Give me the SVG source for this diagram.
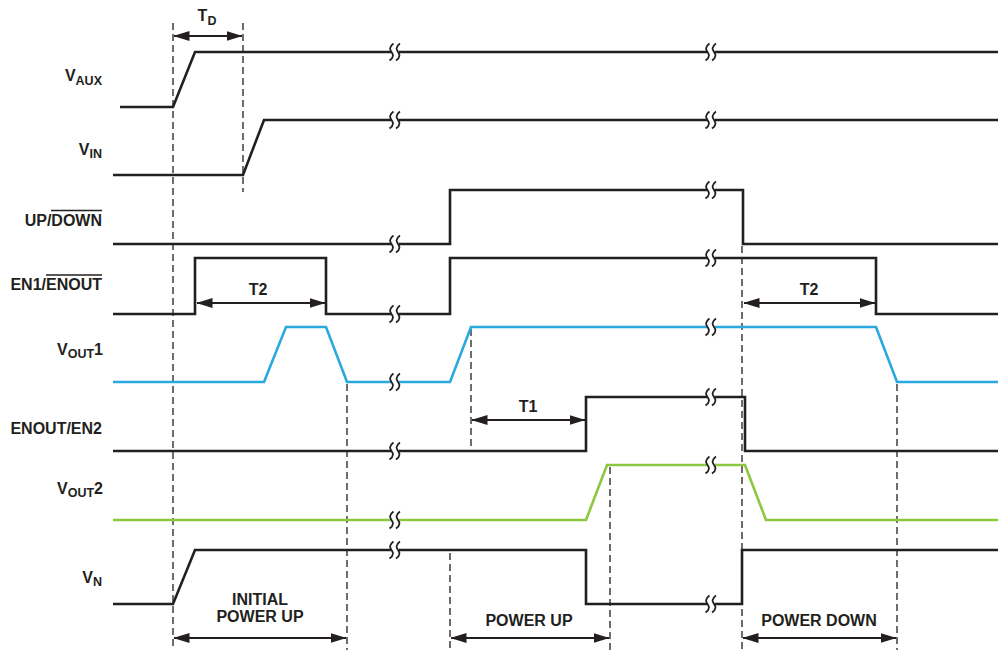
<svg xmlns="http://www.w3.org/2000/svg" xmlns:xlink="http://www.w3.org/1999/xlink" width="998" height="650" viewBox="0 0 998 650">
<style>
text{font-family:"Liberation Sans",Arial,sans-serif;font-weight:bold;fill:#231f20;font-size:16px}
.lbl{text-anchor:end}
.mid{text-anchor:middle}
.sub{font-size:12.5px}
.sig{fill:none;stroke:#231f20;stroke-width:2.6;stroke-linejoin:miter}
.blue{stroke:#29a9e0}
.green{stroke:#8dc63f}
.dash{stroke:#231f20;stroke-width:1.3;stroke-dasharray:7 4;fill:none}
.arr{stroke:#231f20;stroke-width:2;fill:none;marker-start:url(#ah);marker-end:url(#ah)}
.ovl{stroke:#231f20;stroke-width:1.3}
.sq{fill:none;stroke:#231f20;stroke-width:1.8}
</style>
<defs>
<marker id="ah" viewBox="0 0 16 10" refX="15.5" refY="5" markerWidth="16" markerHeight="10" markerUnits="userSpaceOnUse" orient="auto-start-reverse">
<path d="M0,0 L16,5 L0,10 z" fill="#231f20"/>
</marker>
<g id="brk">
<rect x="-3.5" y="-2.5" width="7" height="5" fill="#fff"/>
<path class="sq" d="M-1.5,-8.5 C-6.5,-5 -5,-2 -3.5,0 C-2,2 -0.5,5 -5.5,8.5"/>
<path class="sq" d="M5,-8.5 C0,-5 1.5,-2 3,0 C4.5,2 6,5 1,8.5"/>
</g>
</defs>
<rect width="998" height="650" fill="#fff"/>

<g id="connectors">
<line class="dash" x1="173" y1="23" x2="173" y2="650"/>
<line class="dash" x1="243" y1="23" x2="243" y2="192"/>
<line class="dash" x1="347" y1="384" x2="347" y2="650"/>
<line class="dash" x1="471" y1="329" x2="471" y2="452"/>
<line class="dash" x1="450" y1="553" x2="450" y2="650"/>
<line class="dash" x1="610" y1="467" x2="610" y2="650"/>
<line class="dash" x1="742" y1="246" x2="742" y2="650"/>
<line class="dash" x1="897" y1="384" x2="897" y2="650"/>
<line class="arr" x1="174" y1="36" x2="242" y2="36"/>
<line class="arr" x1="197" y1="303" x2="325" y2="303"/>
<line class="arr" x1="744" y1="303" x2="875" y2="303"/>
<line class="arr" x1="472" y1="420" x2="585" y2="420"/>
<line class="arr" x1="174" y1="638" x2="346" y2="638"/>
<line class="arr" x1="451" y1="638" x2="609" y2="638"/>
<line class="arr" x1="743" y1="638" x2="896" y2="638"/>
<text class="mid" x="207" y="21">T<tspan class="sub" dy="4">D</tspan></text>
<text class="mid" x="258" y="295">T2</text>
<text class="mid" x="809" y="295">T2</text>
<text class="mid" x="528" y="412">T1</text>
<text class="mid" x="260" y="605">INITIAL</text>
<text class="mid" x="260" y="622">POWER UP</text>
<text class="mid" x="529" y="626">POWER UP</text>
<text class="mid" x="819" y="626">POWER DOWN</text>
</g>

<g id="vaux">
<text class="lbl" x="102" y="81">V<tspan class="sub" dy="4">AUX</tspan></text>
<polyline class="sig" points="120,107 173,107 195,52 998,52"/>
<use xlink:href="#brk" x="395" y="52"/><use xlink:href="#brk" x="711" y="52"/>
</g>
<g id="vin">
<text class="lbl" x="102" y="155">V<tspan class="sub" dy="3">IN</tspan></text>
<polyline class="sig" points="113,175 243,175 264,120 998,120"/>
<use xlink:href="#brk" x="395" y="120"/><use xlink:href="#brk" x="711" y="120"/>
</g>
<g id="updown">
<text class="lbl" x="102" y="226">UP/DOWN</text>
<line class="ovl" x1="51" y1="210.5" x2="102" y2="210.5"/>
<polyline class="sig" points="113,244 450,244 450,190 743,190 743,244 998,244"/>
<use xlink:href="#brk" x="395" y="244"/><use xlink:href="#brk" x="711" y="190"/>
</g>
<g id="en1">
<text class="lbl" x="102" y="290">EN1/ENOUT</text>
<line class="ovl" x1="46" y1="275" x2="102" y2="275"/>
<polyline class="sig" points="113,314 195,314 195,258 326,258 326,314 450,314 450,258 876,258 876,314 998,314"/>
<use xlink:href="#brk" x="395" y="314"/><use xlink:href="#brk" x="711" y="258"/>
</g>
<g id="vout1">
<text class="lbl" x="103" y="355">V<tspan class="sub" dy="3">OUT</tspan><tspan dy="-3">1</tspan></text>
<polyline class="sig blue" points="113,382 264,382 286,327 326,327 347,382 450,382 471,327 876,327 897,382 998,382"/>
<use xlink:href="#brk" x="395" y="382"/><use xlink:href="#brk" x="711" y="327"/>
</g>
<g id="enout">
<text class="lbl" x="102" y="434">ENOUT/EN2</text>
<polyline class="sig" points="113,451 586,451 586,397 745,397 745,451 998,451"/>
<use xlink:href="#brk" x="395" y="451"/><use xlink:href="#brk" x="711" y="397"/>
</g>
<g id="vout2">
<text class="lbl" x="103" y="494">V<tspan class="sub" dy="3">OUT</tspan><tspan dy="-3">2</tspan></text>
<polyline class="sig green" points="113,520 586,520 607,465 745,465 766,520 998,520"/>
<use xlink:href="#brk" x="395" y="520"/><use xlink:href="#brk" x="711" y="465"/>
</g>
<g id="vn">
<text class="lbl" x="102" y="583">V<tspan class="sub" dy="3">N</tspan></text>
<polyline class="sig" points="113,604 173,604 195,550 586,550 586,604 742,604 742,550 998,550"/>
<use xlink:href="#brk" x="395" y="550"/><use xlink:href="#brk" x="711" y="604"/>
</g>
</svg>
